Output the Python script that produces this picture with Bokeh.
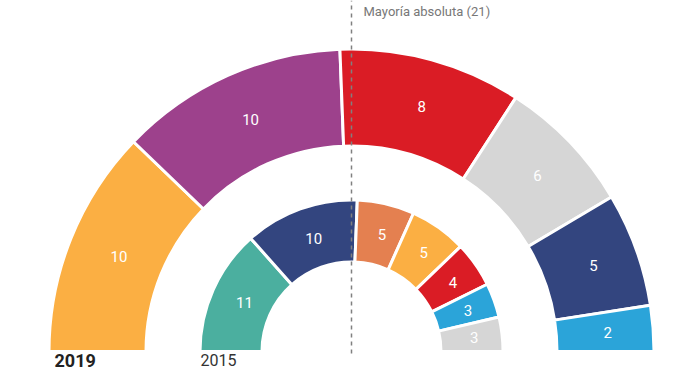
import math
from bokeh.plotting import figure
from bokeh.models import ColumnDataSource, Range1d, Label
from bokeh.core.properties import value
from bokeh.embed import file_html
from bokeh.resources import INLINE

# ---- data ----
seats_2019 = [10, 10, 8, 6, 5, 2]
colors_2019 = ["#FBAF43", "#9D418C", "#DA1C25", "#D6D6D6", "#33457F", "#2BA4D9"]
seats_2015 = [11, 10, 5, 5, 4, 3, 3]
colors_2015 = ["#4BAF9F", "#33457F", "#E48050", "#FBAF43", "#DA1C25", "#2BA4D9", "#D6D6D6"]
total_seats = 41
majority = 21
majority_label = "Mayoría absoluta (21)"
year_outer = "2019"
year_inner = "2015"

# ---- geometry (screen-pixel-like coordinates, y up) ----
W, H = 700, 370
cx, cy = 351, H - 351
outer_ring = (205.5, 302.5)
inner_ring = (89.5, 151.5)


def ring_source(seats, colors, r_in, r_out):
    starts, ends, lx, ly, labels = [], [], [], [], []
    c = 0
    for s in seats:
        a1 = math.pi - c / total_seats * math.pi
        a0 = math.pi - (c + s) / total_seats * math.pi
        starts.append(a0)
        ends.append(a1)
        mid = (a0 + a1) / 2
        rm = (r_in + r_out) / 2
        lx.append(cx + rm * math.cos(mid))
        ly.append(cy + rm * math.sin(mid))
        labels.append(str(s))
        c += s
    return ColumnDataSource(dict(x=[cx] * len(seats), y=[cy] * len(seats),
                                 start=starts, end=ends, color=colors,
                                 lx=lx, ly=ly, label=labels))


p = figure(width=W, height=H, output_backend="svg", toolbar_location=None,
           x_range=Range1d(0, W), y_range=Range1d(0, H),
           min_border=0)
p.axis.visible = False
p.grid.visible = False
p.outline_line_color = None
p.background_fill_color = "white"
p.border_fill_color = "white"

for seats, colors, (r_in, r_out) in [(seats_2019, colors_2019, outer_ring),
                                      (seats_2015, colors_2015, inner_ring)]:
    src = ring_source(seats, colors, r_in, r_out)
    p.annular_wedge(x="x", y="y", inner_radius=r_in, outer_radius=r_out,
                    start_angle="start", end_angle="end", fill_color="color",
                    line_color="white", line_width=3, source=src)
    p.text(x="lx", y="ly", text="label", source=src, text_color="white",
           text_font=value("Roboto"), text_font_size="15px",
           text_align="center", text_baseline="middle", x_offset=3)

# majority line
p.line(x=[cx, cx], y=[H - 353, H], line_color="#808080", line_width=1.5,
       line_dash="4 4")

p.add_layout(Label(x=cx + 12, y=H - 3, text=majority_label, text_font="Roboto",
                   text_font_size="13px", text_color="#777777",
                   text_baseline="top", text_align="left"))

p.add_layout(Label(x=54, y=H - 353, text=year_outer, text_font="Roboto",
                   text_font_size="18px", text_font_style="bold",
                   text_color="#222222", text_baseline="top"))
p.add_layout(Label(x=200, y=H - 353, text=year_inner, text_font="Roboto",
                   text_font_size="16px", text_color="#333333",
                   text_baseline="top"))

open("out.html", "w").write(file_html(p, INLINE))
